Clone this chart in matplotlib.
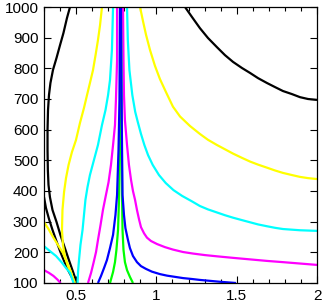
import matplotlib
matplotlib.use("Agg")
import matplotlib.pyplot as plt

plt.rcParams['font.family'] = ['Liberation Sans', 'DejaVu Sans']

# Contour curves (x, y)
black_left_x = [0.462, 0.443, 0.421, 0.400, 0.378, 0.356, 0.340, 0.331, 0.325, 0.322, 0.322, 0.324, 0.328, 0.337, 0.353, 0.378, 0.402, 0.428, 0.453, 0.477, 0.505]
black_left_y = [1000, 964, 915, 876, 834, 795, 752, 713, 664, 599, 534, 468, 420, 380, 338, 299, 257, 217, 178, 142, 100]
black_low_x = [0.300, 0.312, 0.331, 0.353, 0.375, 0.400, 0.425, 0.453, 0.493]
black_low_y = [380, 345, 309, 273, 240, 204, 172, 139, 100]
black_right_x = [1.178, 1.222, 1.271, 1.321, 1.377, 1.427, 1.477, 1.533, 1.583, 1.633, 1.689, 1.738, 1.788, 1.844, 1.894, 1.944, 2.0]
black_right_y = [1000, 967, 931, 899, 869, 843, 821, 801, 785, 768, 752, 739, 726, 716, 706, 700, 697]

yellow_left_x = [0.661, 0.649, 0.636, 0.621, 0.605, 0.586, 0.568, 0.549, 0.524, 0.499, 0.474, 0.453, 0.437, 0.425, 0.415, 0.412, 0.418, 0.431, 0.449, 0.471, 0.493]
yellow_left_y = [1000, 941, 892, 843, 794, 752, 713, 671, 622, 566, 527, 485, 442, 397, 338, 273, 224, 185, 155, 129, 100]
yellow_low_x = [0.300, 0.328, 0.356, 0.387, 0.418, 0.443, 0.468, 0.487]
yellow_low_y = [299, 276, 250, 224, 198, 168, 136, 100]
yellow_right_x = [0.898, 0.916, 0.935, 0.960, 0.991, 1.022, 1.060, 1.103, 1.147, 1.209, 1.271, 1.321, 1.377, 1.427, 1.477, 1.533, 1.583, 1.633, 1.689, 1.738, 1.788, 1.844, 1.894, 1.944, 2.0]
yellow_right_y = [1000, 955, 910, 860, 808, 765, 722, 675, 643, 612, 586, 567, 550, 536, 522, 508, 496, 486, 476, 467, 459, 452, 446, 442, 439]

cyan_left_x = [0.730, 0.723, 0.711, 0.699, 0.683, 0.661, 0.636, 0.611, 0.586, 0.571, 0.558, 0.549, 0.540, 0.527, 0.518, 0.512, 0.509]
cyan_left_y = [1000, 860, 762, 713, 664, 615, 550, 501, 452, 413, 371, 322, 273, 224, 175, 136, 100]
cyan_low_x = [0.300, 0.337, 0.375, 0.409, 0.437, 0.462, 0.484]
cyan_low_y = [220, 204, 188, 168, 149, 133, 100]
cyan_right_x = [0.817, 0.822, 0.832, 0.850, 0.868, 0.884, 0.904, 0.925, 0.948, 0.977, 1.016, 1.058, 1.106, 1.160, 1.222, 1.271, 1.321, 1.377, 1.427, 1.477, 1.533, 1.583, 1.633, 1.689, 1.738, 1.788, 1.894, 2.0]
cyan_right_y = [1000, 892, 794, 713, 658, 625, 586, 550, 517, 485, 452, 426, 403, 384, 366, 351, 340, 330, 321, 313, 305, 298, 291, 285, 280, 276, 272, 270]

magenta_left_x = [0.755, 0.755, 0.748, 0.742, 0.730, 0.717, 0.702, 0.683, 0.667, 0.652, 0.636, 0.624, 0.608, 0.593, 0.574]
magenta_left_y = [1000, 827, 697, 615, 550, 485, 429, 380, 338, 289, 240, 201, 165, 133, 100]
magenta_low_x = [0.300, 0.331, 0.359, 0.384, 0.403]
magenta_low_y = [142, 133, 123, 111, 100]
magenta_right_x = [0.792, 0.795, 0.798, 0.804, 0.817, 0.829, 0.842, 0.854, 0.867, 0.879, 0.892, 0.904, 0.923, 0.941, 0.966, 1.004, 1.053, 1.103, 1.166, 1.228, 1.302, 1.377, 1.477, 1.583, 1.689, 1.788, 1.894, 2.0]
magenta_right_y = [1000, 827, 713, 631, 550, 485, 436, 400, 371, 338, 307, 282, 262, 248, 237, 227, 217, 209, 201, 196, 191, 187, 182, 177, 172, 168, 163.5, 159]

green_left_x = [0.776, 0.773, 0.767, 0.761, 0.751, 0.742, 0.730, 0.711]
green_left_y = [1000, 534, 371, 273, 208, 168, 136, 100]
green_right_x = [0.779, 0.783, 0.786, 0.789, 0.795, 0.804, 0.817, 0.835, 0.854]
green_right_y = [1000, 697, 387, 273, 208, 168, 142, 120, 100]

blue_left_x = [0.773, 0.770, 0.764, 0.755, 0.745, 0.730, 0.711, 0.692, 0.674, 0.655, 0.636]
blue_left_y = [1000, 697, 534, 387, 322, 257, 214, 175, 149, 123, 100]
blue_right_x = [0.779, 0.783, 0.786, 0.789, 0.798, 0.807, 0.823, 0.835, 0.854, 0.879, 0.904, 0.935, 0.972, 1.022, 1.066, 1.116, 1.166, 1.222, 1.271, 1.334, 1.396, 1.446, 1.496]
blue_right_y = [1000, 697, 534, 387, 322, 279, 240, 214, 188, 168, 155, 146, 137, 129, 124, 120, 116, 113, 110, 107, 104, 102, 100]

x_ticks = [0.5, 1, 1.5, 2]
x_tick_labels = ["0.5", "1", "1.5", "2"]
y_ticks = [100, 200, 300, 400, 500, 600, 700, 800, 900, 1000]

fig = plt.figure(figsize=(3.27, 3.06), dpi=100)
ax = fig.add_axes([44/327, 23/306, 273/327, 276/306])

lw = 1.6
curves = [
    (black_left_x, black_left_y, 'black'),
    (black_low_x, black_low_y, 'black'),
    (black_right_x, black_right_y, 'black'),
    (yellow_left_x, yellow_left_y, '#ffff00'),
    (yellow_low_x, yellow_low_y, '#ffff00'),
    (yellow_right_x, yellow_right_y, '#ffff00'),
    (cyan_left_x, cyan_left_y, '#00ffff'),
    (cyan_low_x, cyan_low_y, '#00ffff'),
    (cyan_right_x, cyan_right_y, '#00ffff'),
    (magenta_left_x, magenta_left_y, '#ff00ff'),
    (magenta_low_x, magenta_low_y, '#ff00ff'),
    (magenta_right_x, magenta_right_y, '#ff00ff'),
    (green_left_x, green_left_y, '#00ff00'),
    (green_right_x, green_right_y, '#00ff00'),
    (blue_left_x, blue_left_y, '#0000ff'),
    (blue_right_x, blue_right_y, '#0000ff'),
]
for xs, ys, c in curves:
    ax.plot(xs, ys, color=c, lw=lw, solid_joinstyle='round', solid_capstyle='butt')

ax.set_xlim(0.3, 2.0)
ax.set_ylim(100, 1000)
ax.set_xticks(x_ticks)
ax.set_xticklabels(x_tick_labels)
ax.set_xticks([0.3, 0.4, 0.6, 0.7, 0.8, 0.9, 1.1, 1.2, 1.3, 1.4, 1.6, 1.7, 1.8, 1.9], minor=True)
ax.set_yticks(y_ticks)
ax.tick_params(which='both', direction='in', top=True, right=True, labelsize=11, width=0.8, pad=4)
ax.tick_params(which='major', length=5)
ax.tick_params(which='minor', length=3)
for s in ax.spines.values():
    s.set_linewidth(0.9)

fig.savefig("out.png", dpi=100)
